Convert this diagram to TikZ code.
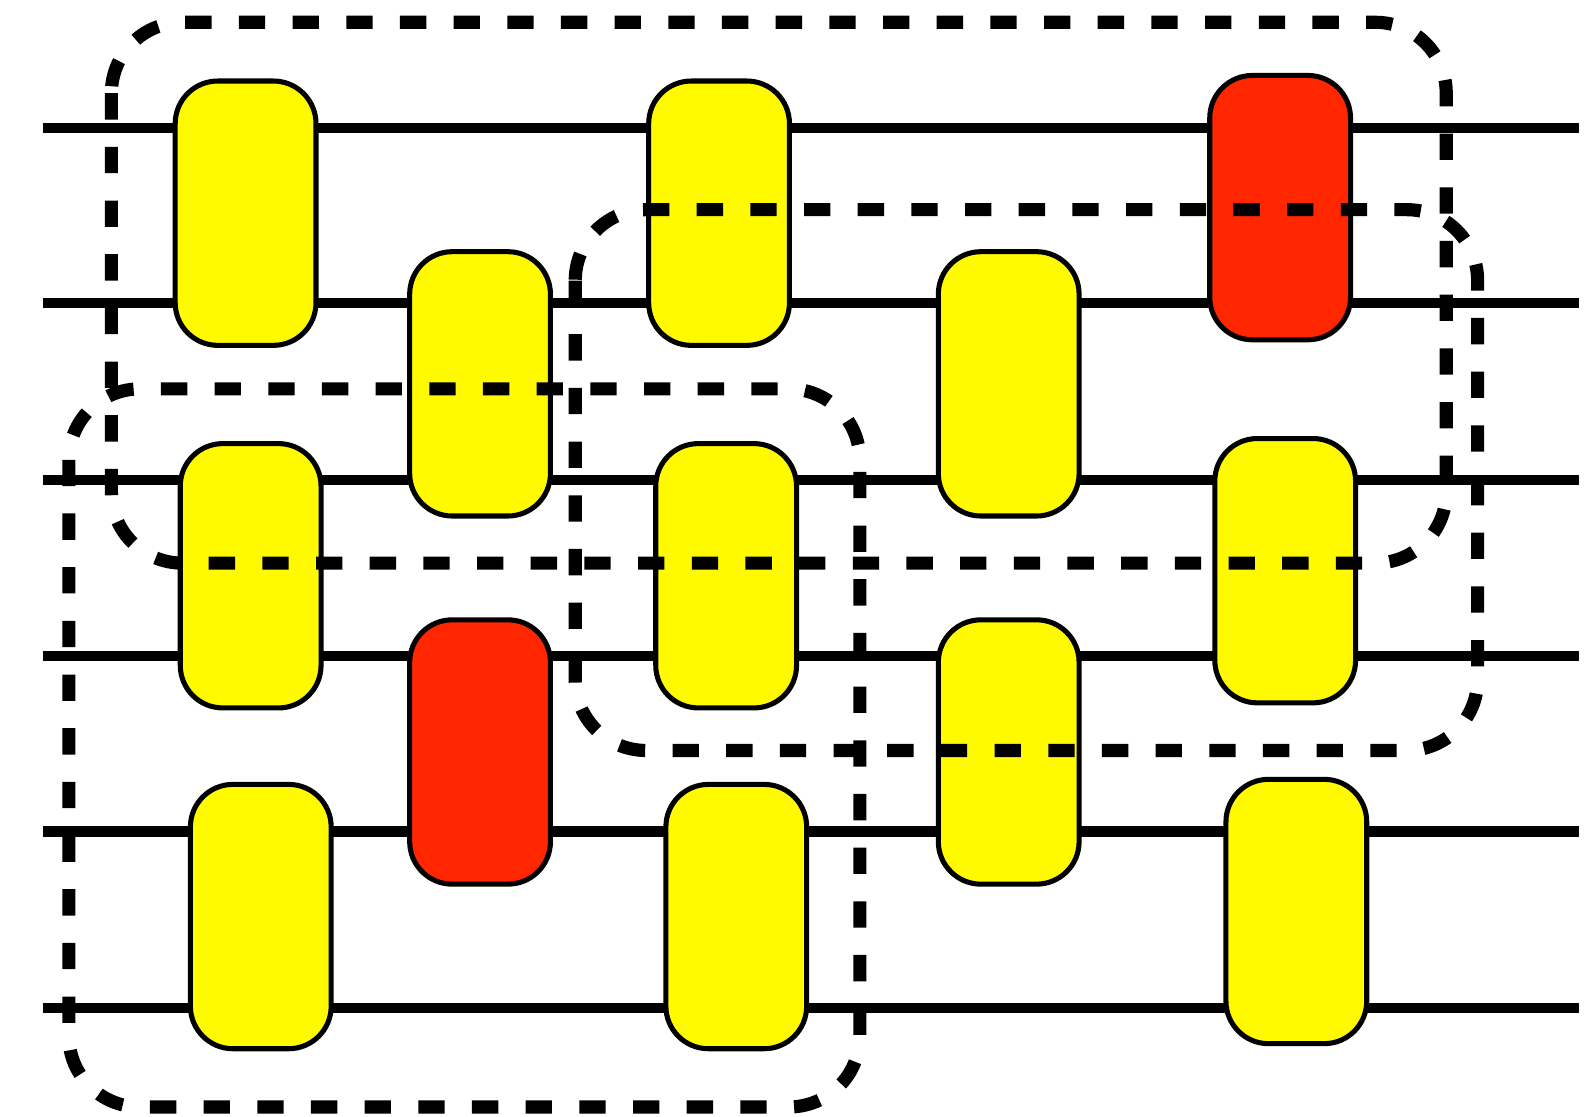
\documentclass[tikz,border=0pt]{standalone}
\usepackage{xcolor}
\usepackage{tikz}
\usetikzlibrary{positioning}

\definecolor{gateyellow}{RGB}{255,250,0}
\definecolor{gatered}{RGB}{255,38,0}

\begin{document}
\begin{tikzpicture}[x=1cm,y=-1cm,
  wire/.style={line width=0.1cm},
  gate/.style={draw,line width=0.05cm,rounded corners=0.42cm,fill=gateyellow,
    minimum width=1.39cm,minimum height=2.61cm,inner sep=0pt},
  redgate/.style={gate,fill=gatered},
  group/.style={line width=0.13cm,dash pattern=on 0.26cm off 0.27cm,
    rounded corners=0.7cm}]
  \useasboundingbox (0,0) rectangle (15.68,11.02);
  % six wires
  \foreach \y [count=\i] in {1.26,2.99,4.74,6.48,8.21,9.95} {
    \coordinate (in\i) at (0.42,\y);
    \coordinate (out\i) at (15.59,\y);
    \draw[wire] (in\i) -- (out\i);
  }
  % two-wire gates
  \node[gate] (g1) at (2.425,2.105) {};
  \node[gate] (g2) at (4.74,3.79) {};
  \node[gate] (g3) at (7.10,2.105) {};
  \node[gate] (g4) at (9.96,3.79) {};
  \node[redgate] (g5) at (12.64,2.05) {};
  \node[gate] (g6) at (2.475,5.685) {};
  \node[redgate] (g7) at (4.74,7.425) {};
  \node[gate] (g8) at (7.17,5.685) {};
  \node[gate] (g9) at (9.96,7.425) {};
  \node[gate] (g10) at (12.69,5.635) {};
  \node[gate] (g11) at (2.575,9.05) {};
  \node[gate] (g12) at (7.27,9.05) {};
  \node[gate] (g13) at (12.80,9.00) {};
  % dashed groups on top
  \draw[group] (1.10,0.22) rectangle (14.28,5.56);
  \draw[group] (5.68,2.07) rectangle (14.59,7.41);
  \draw[group] (0.68,3.84) rectangle (8.49,10.93);
\end{tikzpicture}
\end{document}
